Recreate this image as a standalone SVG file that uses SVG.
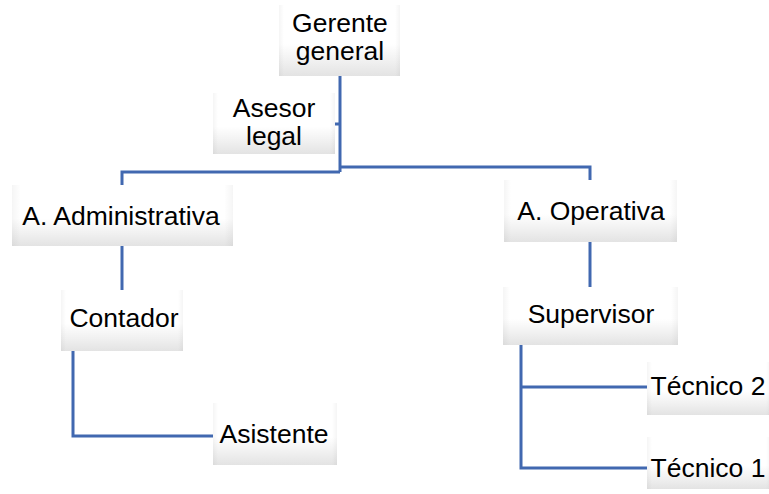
<svg xmlns="http://www.w3.org/2000/svg" width="769" height="494" viewBox="0 0 769 494">
  <defs>
    <linearGradient id="gv" x1="0" y1="0" x2="0" y2="1">
      <stop offset="0" stop-color="#ffffff"/>
      <stop offset="0.55" stop-color="#ffffff"/>
      <stop offset="0.8" stop-color="#f0f0f0"/>
      <stop offset="1" stop-color="#e3e3e3"/>
    </linearGradient>
    <linearGradient id="gh" x1="0" y1="0" x2="1" y2="0">
      <stop offset="0" stop-color="#000" stop-opacity="0.04"/>
      <stop offset="0.04" stop-color="#000" stop-opacity="0"/>
      <stop offset="0.96" stop-color="#000" stop-opacity="0"/>
      <stop offset="1" stop-color="#000" stop-opacity="0.04"/>
    </linearGradient>
  </defs>
  <style>
    .box { fill: url(#gv); }
    .edge { fill: url(#gh); }
    .lbl { font-family: "Liberation Sans", Arial, sans-serif; font-size: 26.5px; fill: #000; text-anchor: middle; }
    .conn { fill: none; stroke: #4168b0; stroke-width: 3; }
  </style>
  <rect width="769" height="494" fill="#ffffff"/>

  <g id="connectors">
    <path class="conn" d="M340,76 V172"/>
    <path class="conn" d="M335,124 H340"/>
    <path class="conn" d="M122,186 V172 H340"/>
    <path class="conn" d="M340,167 H590 V181"/>
    <path class="conn" d="M122,246 V290"/>
    <path class="conn" d="M590,242 V287"/>
    <path class="conn" d="M73,351 V436 H213"/>
    <path class="conn" d="M521,345 V468 H647"/>
    <path class="conn" d="M521,387 H647"/>
  </g>

  <g id="gerente">
    <rect class="box" x="279" y="5" width="121" height="71"/>
    <rect class="edge" x="279" y="5" width="121" height="71"/>
    <text class="lbl" x="340" y="32">Gerente</text>
    <text class="lbl" x="340" y="60">general</text>
  </g>

  <g id="asesor">
    <rect class="box" x="213" y="93" width="122" height="61"/>
    <rect class="edge" x="213" y="93" width="122" height="61"/>
    <text class="lbl" x="274" y="117">Asesor</text>
    <text class="lbl" x="274" y="145">legal</text>
  </g>

  <g id="administrativa">
    <rect class="box" x="12" y="185" width="221" height="61"/>
    <rect class="edge" x="12" y="185" width="221" height="61"/>
    <text class="lbl" x="121" y="225">A. Administrativa</text>
  </g>

  <g id="operativa">
    <rect class="box" x="504" y="180" width="173" height="62"/>
    <rect class="edge" x="504" y="180" width="173" height="62"/>
    <text class="lbl" x="591" y="220">A. Operativa</text>
  </g>

  <g id="contador">
    <rect class="box" x="61" y="290" width="122" height="61"/>
    <rect class="edge" x="61" y="290" width="122" height="61"/>
    <text class="lbl" x="124" y="327">Contador</text>
  </g>

  <g id="supervisor">
    <rect class="box" x="503" y="287" width="175" height="58"/>
    <rect class="edge" x="503" y="287" width="175" height="58"/>
    <text class="lbl" x="591" y="323">Supervisor</text>
  </g>

  <g id="asistente">
    <rect class="box" x="213" y="403" width="124" height="62"/>
    <rect class="edge" x="213" y="403" width="124" height="62"/>
    <text class="lbl" x="274" y="443">Asistente</text>
  </g>

  <g id="tecnico2">
    <rect class="box" x="647" y="362" width="124" height="53"/>
    <rect class="edge" x="647" y="362" width="124" height="53"/>
    <text class="lbl" x="708" y="395">Técnico 2</text>
  </g>

  <g id="tecnico1">
    <rect class="box" x="647" y="437" width="124" height="52"/>
    <rect class="edge" x="647" y="437" width="124" height="52"/>
    <text class="lbl" x="708" y="477">Técnico 1</text>
  </g>
</svg>
